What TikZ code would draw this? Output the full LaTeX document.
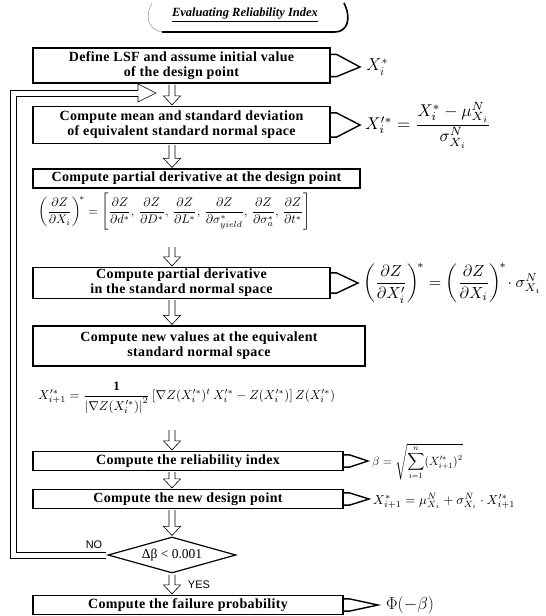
\documentclass[tikz,border=0pt]{standalone}
\usepackage{fontspec}
\setmainfont{Liberation Serif}
\setsansfont{Liberation Sans}
\newfontfamily\boxfont{Liberation Serif}[LetterSpace=2.5]
\usepackage{amsmath}
\usepackage{graphicx}
\usetikzlibrary{shapes.geometric,calc}

\tikzset{
  box/.style={draw, line width=1.2pt, font=\boxfont\bfseries\fontsize{14}{15}\selectfont, align=center, inner sep=0pt, anchor=center},
  harrowline/.style={draw, line width=0.6pt, fill=white, line join=miter},
  bracketline/.style={line width=1.4pt, line join=miter},
  fml/.style={inner sep=0pt, anchor=west},
  lbl/.style={font=\sffamily\fontsize{11}{11}\selectfont, inner sep=0pt},
  loopline/.style={draw=black, line width=0.8pt, line join=miter},
}

% hollow down arrow: from (#1) to (#2)
\newcommand\hdown[2]{%
  \draw[harrowline] let \p1=(#1), \p2=(#2) in
    (\x1-3pt,\y1-1pt) -- (\x1-3pt,\y2+10pt) -- (\x1-8.5pt,\y2+10pt) -- (\x1,\y2+1pt)
    -- (\x1+8.5pt,\y2+10pt) -- (\x1+3pt,\y2+10pt) -- (\x1+3pt,\y1-1pt);}
% bracket from box #1 to tip coordinate #2, vertical inset #3
\newcommand\brk[3]{%
  \draw[bracketline] let \p1=(#1.north east), \p2=(#1.south east), \p3=(#2) in
    (\x1-1pt,\y1-#3) -- (\x1+6pt,\y1-#3) -- (\p3) -- (\x1+6pt,\y2+#3) -- (\x1-1pt,\y2+#3);}

\begin{document}
\begin{tikzpicture}[x=1pt,y=-1pt]
\useasboundingbox (0,0) rectangle (546,616);

% title
\node[font=\bfseries\itshape\fontsize{12.5}{13}\selectfont, inner sep=0pt] (title) at (245,15) {\underline{Evaluating Reliability Index}};
\draw[line width=0.4pt, gray] (152,3) .. controls (145,16) and (147,29) .. (162,32);
\draw[line width=1.6pt] (162,32) -- (335,32) .. controls (347,32) and (352,19) .. (344,3);

\coordinate (ax) at (172,0);

% boxes
\node[box, minimum width=297pt, minimum height=35pt] (b1) at (181.5,65.5) {Define LSF and assume initial value\\of the design point};
\node[box, minimum width=297pt, minimum height=37pt] (b2) at (181.5,125) {Compute mean and standard deviation\\of equivalent standard normal space};
\node[box, minimum width=327pt, minimum height=19pt] (b3) at (196.5,178.5) {Compute partial derivative at the design point};
\node[box, minimum width=297pt, minimum height=31pt] (b4) at (181.5,283) {Compute partial derivative\\in the standard normal space};
\node[box, minimum width=332pt, minimum height=40pt] (b5) at (199,346) {Compute new values at the equivalent\\standard normal space};
\node[box, minimum width=310pt, minimum height=19pt] (b6) at (188,461) {Compute the reliability index};
\node[box, minimum width=310pt, minimum height=19pt] (b7) at (188,499) {Compute the new design point};
\node[draw, diamond, line width=1.2pt, minimum width=128pt, minimum height=36pt, aspect=3.5, inner sep=0pt, font=\fontsize{13.5}{14}\selectfont] (dia) at (172,555) {Δβ < 0.001};
\node[box, minimum width=310pt, minimum height=19pt] (b8) at (188,605) {Compute the failure probability};

% formulas
\coordinate (t1) at (360,67);
\node[fml, font=\fontsize{17}{17}\selectfont] (f1) at (366,67) {$X_i^{*}$};
\coordinate (t2) at (360,125);
\node[fml] (f2) at (365,125) {\resizebox{126pt}{!}{$X_i^{\prime *} = \dfrac{X_i^{*}-\mu^{N}_{X_i}}{\sigma^{N}_{X_i}}$}};
\node[fml] (f3) at (38,212) {\resizebox{272pt}{!}{$\left(\dfrac{\partial Z}{\partial X_i}\right)^{\!*} = \left[\dfrac{\partial Z}{\partial d^{*}},\, \dfrac{\partial Z}{\partial D^{*}},\, \dfrac{\partial Z}{\partial L^{*}},\, \dfrac{\partial Z}{\partial \sigma^{*}_{yield}},\, \dfrac{\partial Z}{\partial \sigma^{*}_{a}},\, \dfrac{\partial Z}{\partial t^{*}}\right]$}};
\coordinate (t4) at (358,283);
\node[fml] (f4) at (363,283) {\resizebox{178pt}{!}{$\left(\dfrac{\partial Z}{\partial X_i^{\prime}}\right)^{\!*} = \left(\dfrac{\partial Z}{\partial X_i}\right)^{\!*}\!\cdot \sigma^{N}_{X_i}$}};
\node[fml] (f5) at (38,398) {\resizebox{297pt}{!}{$X^{\prime *}_{i+1} = \dfrac{\mathbf{1}}{\left|\nabla Z(X^{\prime *}_{i})\right|^{2}}\left[\nabla Z(X^{\prime *}_{i})^{t}\, X^{\prime *}_{i} - Z(X^{\prime *}_{i})\right] Z(X^{\prime *}_{i})$}};
\coordinate (t6) at (368,461);
\node[fml, font=\fontsize{12}{12}\selectfont] (f6) at (372,462) {$\beta = \sqrt{\displaystyle\sum_{i=1}^{n} (X^{\prime *}_{i+1})^{2}}$};
\coordinate (t7) at (369,499);
\node[fml] (f7) at (373,501) {\resizebox{142pt}{!}{$X^{*}_{i+1} = \mu^{N}_{X_i} + \sigma^{N}_{X_i}\cdot X^{\prime *}_{i+1}$}};
\coordinate (t8) at (378,605);
\node[fml, font=\fontsize{16}{16}\selectfont] (f8) at (386,605) {$\Phi(-\beta)$};

% brackets
\brk{b1}{t1}{7pt}
\brk{b2}{t2}{7pt}
\brk{b4}{t4}{6pt}
\brk{b6}{t6}{4pt}
\brk{b7}{t7}{4pt}
\brk{b8}{t8}{4pt}

% arrows
\coordinate (a3) at (172,246);
\coordinate (a5) at (172,429);
\hdown{b1.south -| ax}{b2.north -| ax}
\hdown{b2.south -| ax}{b3.north -| ax}
\hdown{a3}{b4.north -| ax}
\hdown{b4.south -| ax}{b5.north -| ax}
\hdown{a5}{b6.north -| ax}
\hdown{b6.south -| ax}{b7.north -| ax}
\hdown{b7.south -| ax}{dia.north}
\hdown{dia.south}{b8.north -| ax}

% loop back (hollow double-line arrow)
\coordinate (lo1) at (10,558);
\coordinate (lo2) at (10,90);
\coordinate (lh1) at (138,90);
\coordinate (li1) at (16,552);
\coordinate (li2) at (16,96);
\coordinate (lh2) at (138,96);
\draw[loopline] ($(dia.west)+(-1,3)$) -- (lo1) -- (lo2) -- (lh1);
\draw[loopline] ($(dia.west)+(-1,-3)$) -- (li1) -- (li2) -- (lh2);
\draw[harrowline] (lh1) -- ($(lh1)+(0,-6)$) -- ($(lh1)+(18,3)$) -- ($(lh2)+(0,6)$) -- (lh2);

\node[lbl] (no) at (94,545) {NO};
\node[lbl] (yes) at (199,585) {YES};
\end{tikzpicture}
\end{document}
